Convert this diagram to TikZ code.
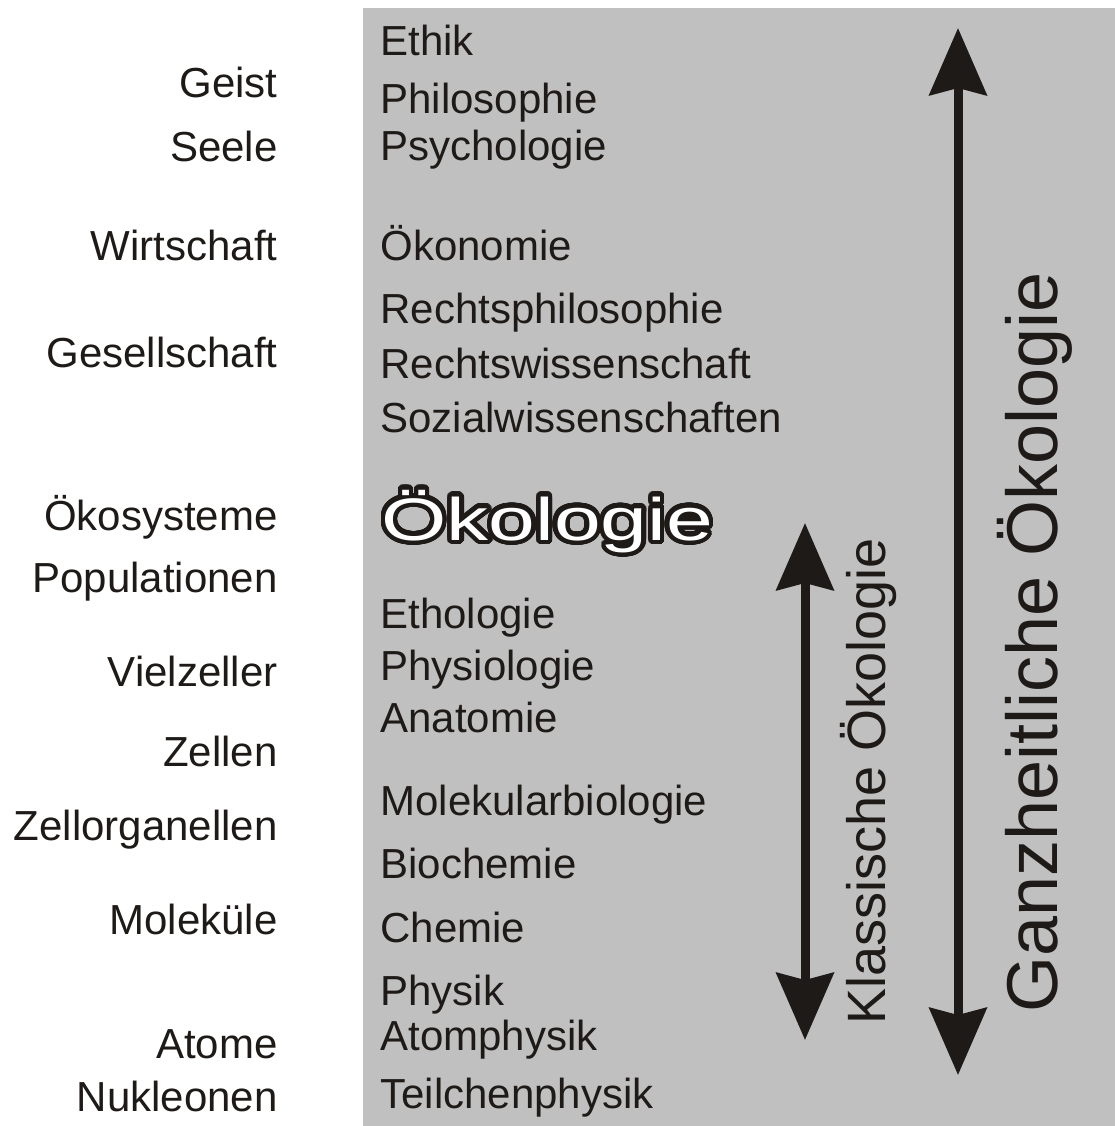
\documentclass[tikz,border=0pt]{standalone}
\usepackage{fontspec}
\setmainfont{Liberation Sans}
\usepackage[copies]{contour}
\usetikzlibrary{math,arrows.meta}

\definecolor{grau}{RGB}{192,192,192}
\definecolor{tinte}{RGB}{30,26,23}

\begin{document}
\begin{tikzpicture}[x=0.5pt,y=-0.5pt,
  ebene/.style={anchor=base east,inner sep=0pt,text=tinte,font=\fontsize{21}{25}\selectfont},
  fach/.style={anchor=base west,inner sep=0pt,text=tinte,font=\fontsize{21}{25}\selectfont},
  pfeil/.style={line width=4.5pt,draw=tinte,
    {Stealth[length=33.5pt,width=28.5pt,inset=3.5pt]}-{Stealth[length=33.5pt,width=28.5pt,inset=3.5pt]}}]
  % 使用 tikzmath 定义位置
  \tikzmath{
    % 两列文字的对齐线
    \xlinks = 278; \xrechts = 380;
    % 两个箭头的 x 坐标
    \xklass = 805; \xganz = 958;
  }
  \useasboundingbox (0,0) rectangle (1115,1126);

  % 灰色背景
  \fill[grau] (363,8) rectangle (1115,1126);

  % 左列: 层次
  \node[ebene] (geist) at (\xlinks,97) {Geist};
  \node[ebene] (seele) at (\xlinks,161) {Seele};
  \node[ebene] (wirtschaft) at (\xlinks,260) {Wirtschaft};
  \node[ebene] (gesellschaft) at (\xlinks,367) {Gesellschaft};
  \node[ebene] (oekosysteme) at (\xlinks,530) {Ökosysteme};
  \node[ebene] (populationen) at (\xlinks,592) {Populationen};
  \node[ebene] (vielzeller) at (\xlinks,686) {Vielzeller};
  \node[ebene] (zellen) at (\xlinks,766) {Zellen};
  \node[ebene] (zellorganellen) at (\xlinks,840) {Zellorganellen};
  \node[ebene] (molekuele) at (\xlinks,934) {Moleküle};
  \node[ebene] (atome) at (\xlinks,1058) {Atome};
  \node[ebene] (nukleonen) at (\xlinks,1111) {Nukleonen};

  % 右列: 学科
  \node[fach] (ethik) at (\xrechts,55) {Ethik};
  \node[fach] (philosophie) at (\xrechts,113) {Philosophie};
  \node[fach] (psychologie) at (\xrechts,160) {Psychologie};
  \node[fach] (oekonomie) at (\xrechts,260) {Ökonomie};
  \node[fach] (rechtsphil) at (\xrechts,323) {Rechtsphilosophie};
  \node[fach] (rechtswiss) at (\xrechts,378) {Rechtswissenschaft};
  \node[fach] (sozialwiss) at (\xrechts,432) {Sozialwissenschaften};
  \node[fach] (ethologie) at (\xrechts,628) {Ethologie};
  \node[fach] (physiologie) at (\xrechts,680) {Physiologie};
  \node[fach] (anatomie) at (\xrechts,732) {Anatomie};
  \node[fach] (molbio) at (\xrechts,815) {Molekularbiologie};
  \node[fach] (biochemie) at (\xrechts,878) {Biochemie};
  \node[fach] (chemie) at (\xrechts,942) {Chemie};
  \node[fach] (physik) at (\xrechts,1005) {Physik};
  \node[fach] (atomphysik) at (\xrechts,1050) {Atomphysik};
  \node[fach] (teilchen) at (\xrechts,1108) {Teilchenphysik};

  % 空心大字
  \node[anchor=base west,inner sep=0pt,font=\fontsize{30}{36}\selectfont] (oekologie) at (381,540)
    {\contourlength{2.2pt}\contournumber{48}\contour{tinte}{\textcolor{white}{\scalebox{1.4}[1]{Ökologie}}}};

  % 双向箭头
  \coordinate (klass-oben) at (\xklass,523);
  \coordinate (klass-unten) at (\xklass,1040);
  \draw[pfeil] (klass-unten) -- (klass-oben);
  \coordinate (ganz-oben) at (\xganz,28);
  \coordinate (ganz-unten) at (\xganz,1075);
  \draw[pfeil] (ganz-unten) -- (ganz-oben);

  % 竖排标注
  \node[rotate=90,anchor=base,inner sep=0pt,text=tinte,font=\fontsize{27}{32}\selectfont] (klassisch) at (885,781) {Klassische Ökologie};
  \node[rotate=90,anchor=base,inner sep=0pt,text=tinte,font=\fontsize{36}{43}\selectfont] (ganzheitlich) at (1057,642) {Ganzheitliche Ökologie};
\end{tikzpicture}
\end{document}
